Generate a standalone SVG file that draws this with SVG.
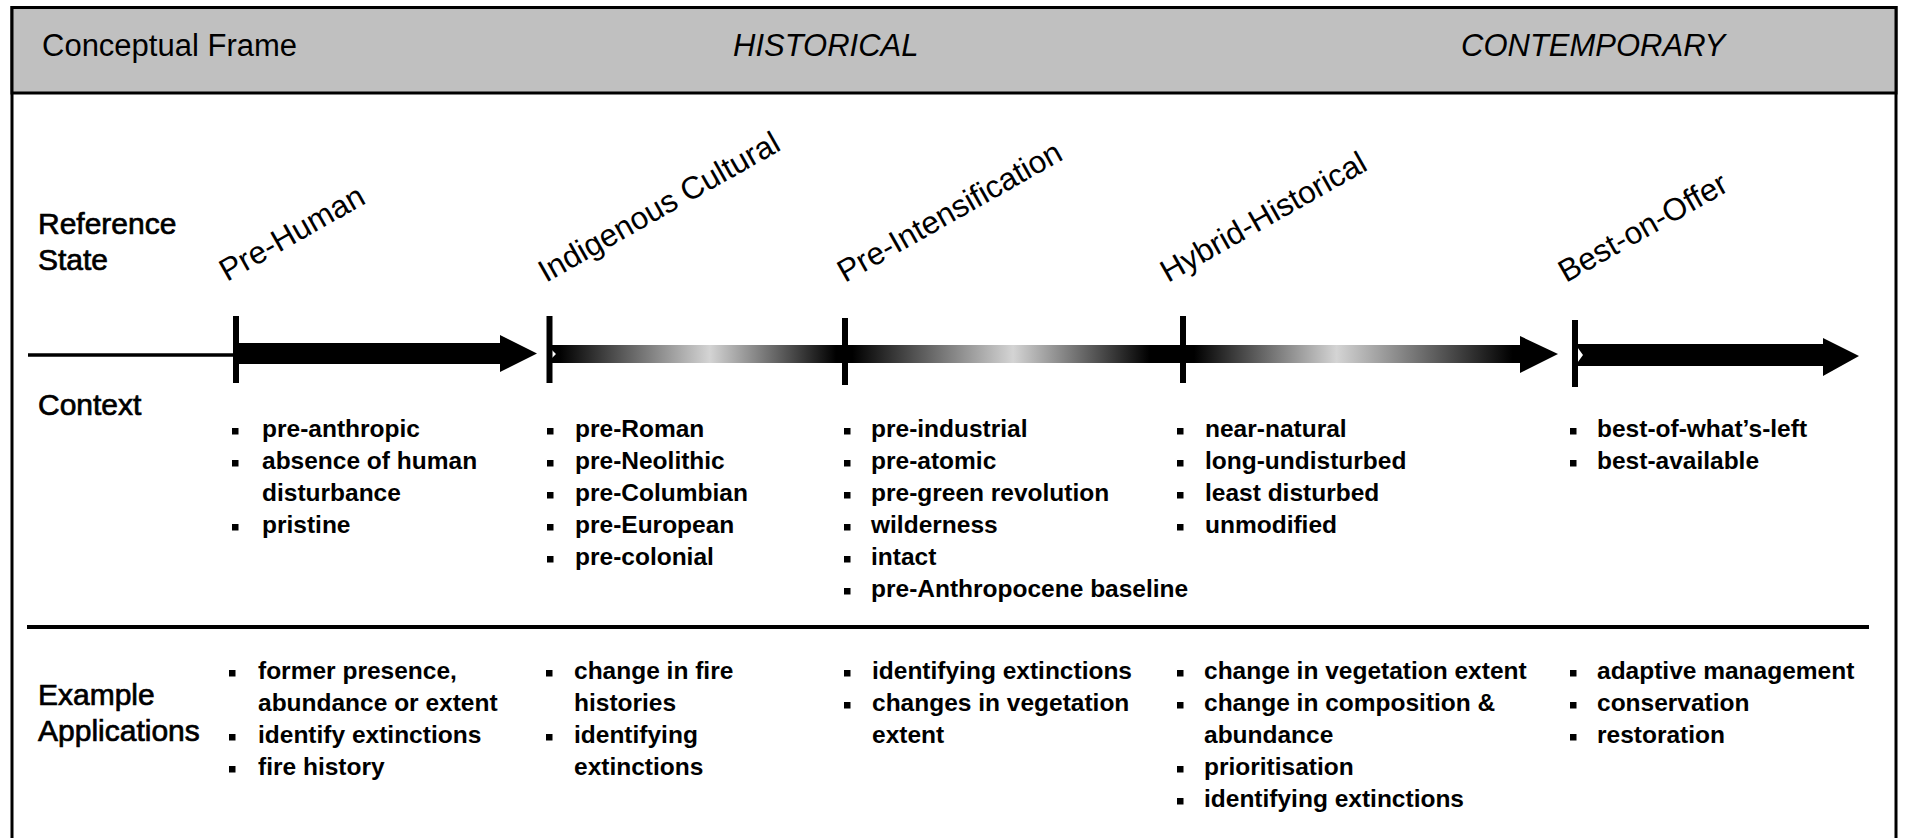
<svg xmlns="http://www.w3.org/2000/svg" width="1905" height="838" viewBox="0 0 1905 838">
<style>
  text { font-family: "Liberation Sans", Arial, sans-serif; fill: #000; }
  .hdr { font-size: 31px; }
  .it { font-style: italic; }
  .row { font-size: 30px; stroke: #000; stroke-width: 0.7px; }
  .state { font-size: 31.5px; }
  .item { font-size: 24.5px; font-weight: bold; }
  .tick { stroke: #000; stroke-width: 6; }
  .blt { fill: #000; }
</style>
<defs>
  <linearGradient id="grad" gradientUnits="userSpaceOnUse" x1="547" y1="0" x2="1558" y2="0">
    <stop offset="0" stop-color="#000"/>
    <stop offset="0.012" stop-color="#000"/>
    <stop offset="0.161" stop-color="#d4d4d4"/>
    <stop offset="0.286" stop-color="#000"/>
    <stop offset="0.302" stop-color="#000"/>
    <stop offset="0.461" stop-color="#d4d4d4"/>
    <stop offset="0.596" stop-color="#000"/>
    <stop offset="0.640" stop-color="#000"/>
    <stop offset="0.781" stop-color="#d4d4d4"/>
    <stop offset="0.955" stop-color="#000"/>
    <stop offset="1" stop-color="#000"/>
  </linearGradient>
  <rect id="b" width="6.5" height="6.5" class="blt"/>
</defs>
<rect width="1905" height="838" fill="#fff"/>

<!-- frame and header -->
<g id="frame">
  <rect x="12" y="7.5" width="1884" height="860" fill="#fff" stroke="#000" stroke-width="3"/>
  <rect x="12" y="7.5" width="1884" height="85.5" fill="#c0c0c0" stroke="#000" stroke-width="3"/>
  <text class="hdr" x="42" y="56">Conceptual Frame</text>
  <text class="hdr it" x="733" y="56">HISTORICAL</text>
  <text class="hdr it" x="1461" y="56">CONTEMPORARY</text>
  <line x1="27" y1="627" x2="1869" y2="627" stroke="#000" stroke-width="4"/>
</g>

<!-- row labels -->
<g id="row-labels">
  <text class="row" x="38" y="234">Reference</text>
  <text class="row" x="38" y="270">State</text>
  <text class="row" x="38" y="415">Context</text>
  <text class="row" x="38" y="705">Example</text>
  <text class="row" x="38" y="741">Applications</text>
</g>

<!-- timeline connectors -->
<g id="connectors">
  <line x1="28" y1="355" x2="236" y2="355" stroke="#000" stroke-width="3.5"/>
  <polygon points="236,343 500,343 500,335 537,353.5 500,372 500,364 236,364" fill="#000"/>
  <polygon points="547,345 1520,345 1520,336 1558,354 1520,373 1520,363 547,363 556,354" fill="url(#grad)"/>
  <polygon points="1575,344 1823,344 1823,338 1859,356 1823,376 1823,366 1575,366 1583,355" fill="#000"/>
</g>

<!-- reference state nodes -->
<g id="state-pre-human">
  <line class="tick" x1="236" y1="316" x2="236" y2="383"/>
  <text class="state" transform="translate(227 282) rotate(-29.5)">Pre-Human</text>
</g>
<g id="state-indigenous-cultural">
  <line class="tick" x1="549.5" y1="316" x2="549.5" y2="383"/>
  <text class="state" transform="translate(546 283) rotate(-29.5)">Indigenous Cultural</text>
</g>
<g id="state-pre-intensification">
  <line class="tick" x1="845" y1="318" x2="845" y2="385"/>
  <text class="state" transform="translate(845 283) rotate(-29.5)">Pre-Intensification</text>
</g>
<g id="state-hybrid-historical">
  <line class="tick" x1="1183" y1="316" x2="1183" y2="383"/>
  <text class="state" transform="translate(1168 283) rotate(-29.5)">Hybrid-Historical</text>
</g>
<g id="state-best-on-offer">
  <line class="tick" x1="1575" y1="320" x2="1575" y2="387"/>
  <text class="state" transform="translate(1566 283) rotate(-29.5)">Best-on-Offer</text>
</g>

<!-- context column lists -->
<g id="context-pre-human">
  <use href="#b" x="232" y="428"/><text class="item" x="262" y="437">pre-anthropic</text>
  <use href="#b" x="232" y="460"/><text class="item" x="262" y="469">absence of human</text>
  <text class="item" x="262" y="501">disturbance</text>
  <use href="#b" x="232" y="524"/><text class="item" x="262" y="533">pristine</text>
</g>
<g id="context-indigenous-cultural">
  <use href="#b" x="547" y="428"/><text class="item" x="575" y="437">pre-Roman</text>
  <use href="#b" x="547" y="460"/><text class="item" x="575" y="469">pre-Neolithic</text>
  <use href="#b" x="547" y="492"/><text class="item" x="575" y="501">pre-Columbian</text>
  <use href="#b" x="547" y="524"/><text class="item" x="575" y="533">pre-European</text>
  <use href="#b" x="547" y="556"/><text class="item" x="575" y="565">pre-colonial</text>
</g>
<g id="context-pre-intensification">
  <use href="#b" x="844" y="428"/><text class="item" x="871" y="437">pre-industrial</text>
  <use href="#b" x="844" y="460"/><text class="item" x="871" y="469">pre-atomic</text>
  <use href="#b" x="844" y="492"/><text class="item" x="871" y="501">pre-green revolution</text>
  <use href="#b" x="844" y="524"/><text class="item" x="871" y="533">wilderness</text>
  <use href="#b" x="844" y="556"/><text class="item" x="871" y="565">intact</text>
  <use href="#b" x="844" y="588"/><text class="item" x="871" y="597">pre-Anthropocene baseline</text>
</g>
<g id="context-hybrid-historical">
  <use href="#b" x="1177" y="428"/><text class="item" x="1205" y="437">near-natural</text>
  <use href="#b" x="1177" y="460"/><text class="item" x="1205" y="469">long-undisturbed</text>
  <use href="#b" x="1177" y="492"/><text class="item" x="1205" y="501">least disturbed</text>
  <use href="#b" x="1177" y="524"/><text class="item" x="1205" y="533">unmodified</text>
</g>
<g id="context-best-on-offer">
  <use href="#b" x="1570" y="428"/><text class="item" x="1597" y="437">best-of-what’s-left</text>
  <use href="#b" x="1570" y="460"/><text class="item" x="1597" y="469">best-available</text>
</g>

<!-- example applications lists -->
<g id="apps-pre-human">
  <use href="#b" x="229" y="670"/><text class="item" x="258" y="679">former presence,</text>
  <text class="item" x="258" y="711">abundance or extent</text>
  <use href="#b" x="229" y="734"/><text class="item" x="258" y="743">identify extinctions</text>
  <use href="#b" x="229" y="766"/><text class="item" x="258" y="775">fire history</text>
</g>
<g id="apps-indigenous-cultural">
  <use href="#b" x="546" y="670"/><text class="item" x="574" y="679">change in fire</text>
  <text class="item" x="574" y="711">histories</text>
  <use href="#b" x="546" y="734"/><text class="item" x="574" y="743">identifying</text>
  <text class="item" x="574" y="775">extinctions</text>
</g>
<g id="apps-pre-intensification">
  <use href="#b" x="844" y="670"/><text class="item" x="872" y="679">identifying extinctions</text>
  <use href="#b" x="844" y="702"/><text class="item" x="872" y="711">changes in vegetation</text>
  <text class="item" x="872" y="743">extent</text>
</g>
<g id="apps-hybrid-historical">
  <use href="#b" x="1177" y="670"/><text class="item" x="1204" y="679">change in vegetation extent</text>
  <use href="#b" x="1177" y="702"/><text class="item" x="1204" y="711">change in composition &amp;</text>
  <text class="item" x="1204" y="743">abundance</text>
  <use href="#b" x="1177" y="766"/><text class="item" x="1204" y="775">prioritisation</text>
  <use href="#b" x="1177" y="798"/><text class="item" x="1204" y="807">identifying extinctions</text>
</g>
<g id="apps-best-on-offer">
  <use href="#b" x="1570" y="670"/><text class="item" x="1597" y="679">adaptive management</text>
  <use href="#b" x="1570" y="702"/><text class="item" x="1597" y="711">conservation</text>
  <use href="#b" x="1570" y="734"/><text class="item" x="1597" y="743">restoration</text>
</g>
</svg>
